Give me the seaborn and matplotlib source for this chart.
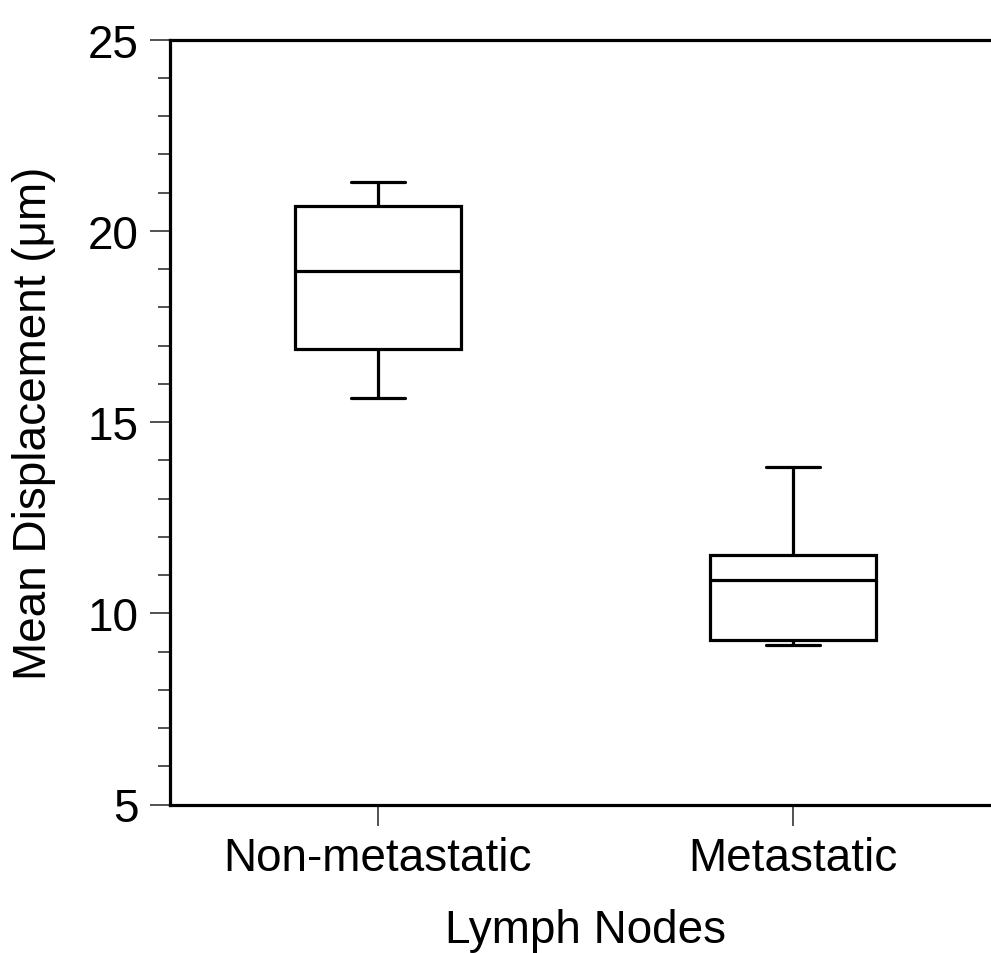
import pandas as pd
import numpy as np
import seaborn as sns
import matplotlib.pyplot as plt
from matplotlib.ticker import MultipleLocator

# ----------------- Data -----------------
# five-number summaries: whisker low, Q1, median, Q3, whisker high
groups = ["Non-metastatic", "Metastatic"]
non_metastatic = [15.63, 16.91, 18.96, 20.65, 21.28]
metastatic = [9.16, 9.29, 10.86, 11.52, 13.82]

df = pd.DataFrame({
    "group": [groups[0]] * len(non_metastatic) + [groups[1]] * len(metastatic),
    "value": non_metastatic + metastatic,
})

# ----------------- Style -----------------
sns.set_style("ticks")
plt.rcParams['font.family'] = ['Liberation Sans', 'DejaVu Sans']
plt.rcParams['font.size'] = 33
plt.rcParams['text.color'] = 'black'
plt.rcParams['axes.labelcolor'] = 'black'
plt.rcParams['xtick.color'] = 'black'
plt.rcParams['ytick.color'] = 'black'

fig = plt.figure(figsize=(9.91, 9.54), dpi=100)
# axes runs a bit past the right edge, like the cropped original
ax = fig.add_axes([170 / 991, 1 - 805.5 / 954, (1001 - 170) / 991, (805.5 - 40.7) / 954])

# ----------------- Box plot -----------------
sns.boxplot(data=df, x="group", y="value", order=groups, whis=(0, 100),
            width=0.4, color="white", linecolor="black", linewidth=2.3,
            capwidths=0.13, ax=ax)

ax.set_xlim(-0.5, 1.5)
ax.set_ylim(5, 25)
ax.yaxis.set_major_locator(MultipleLocator(5))
ax.yaxis.set_minor_locator(MultipleLocator(1))

for side in ["left", "bottom", "top", "right"]:
    ax.spines[side].set_linewidth(2.3)
    ax.spines[side].set_color("black")

ax.tick_params(axis="y", which="major", length=14.5, width=1.1, pad=8,
               labelsize=33, labelcolor="black", color="#222222")
ax.tick_params(axis="y", which="minor", length=8.5, width=1.1, color="#222222")
ax.tick_params(axis="x", which="major", length=15, width=1.1, pad=8,
               labelsize=33, labelcolor="black", color="#222222")

ax.set_xlabel("Lymph Nodes", fontsize=33, color="black")
ax.set_ylabel("Mean Displacement (μm)", fontsize=33, color="black")
ax.xaxis.set_label_coords(0.5, -0.135)
ax.yaxis.set_label_coords(-0.137, 0.5)

fig.savefig("out.png", dpi=100)
